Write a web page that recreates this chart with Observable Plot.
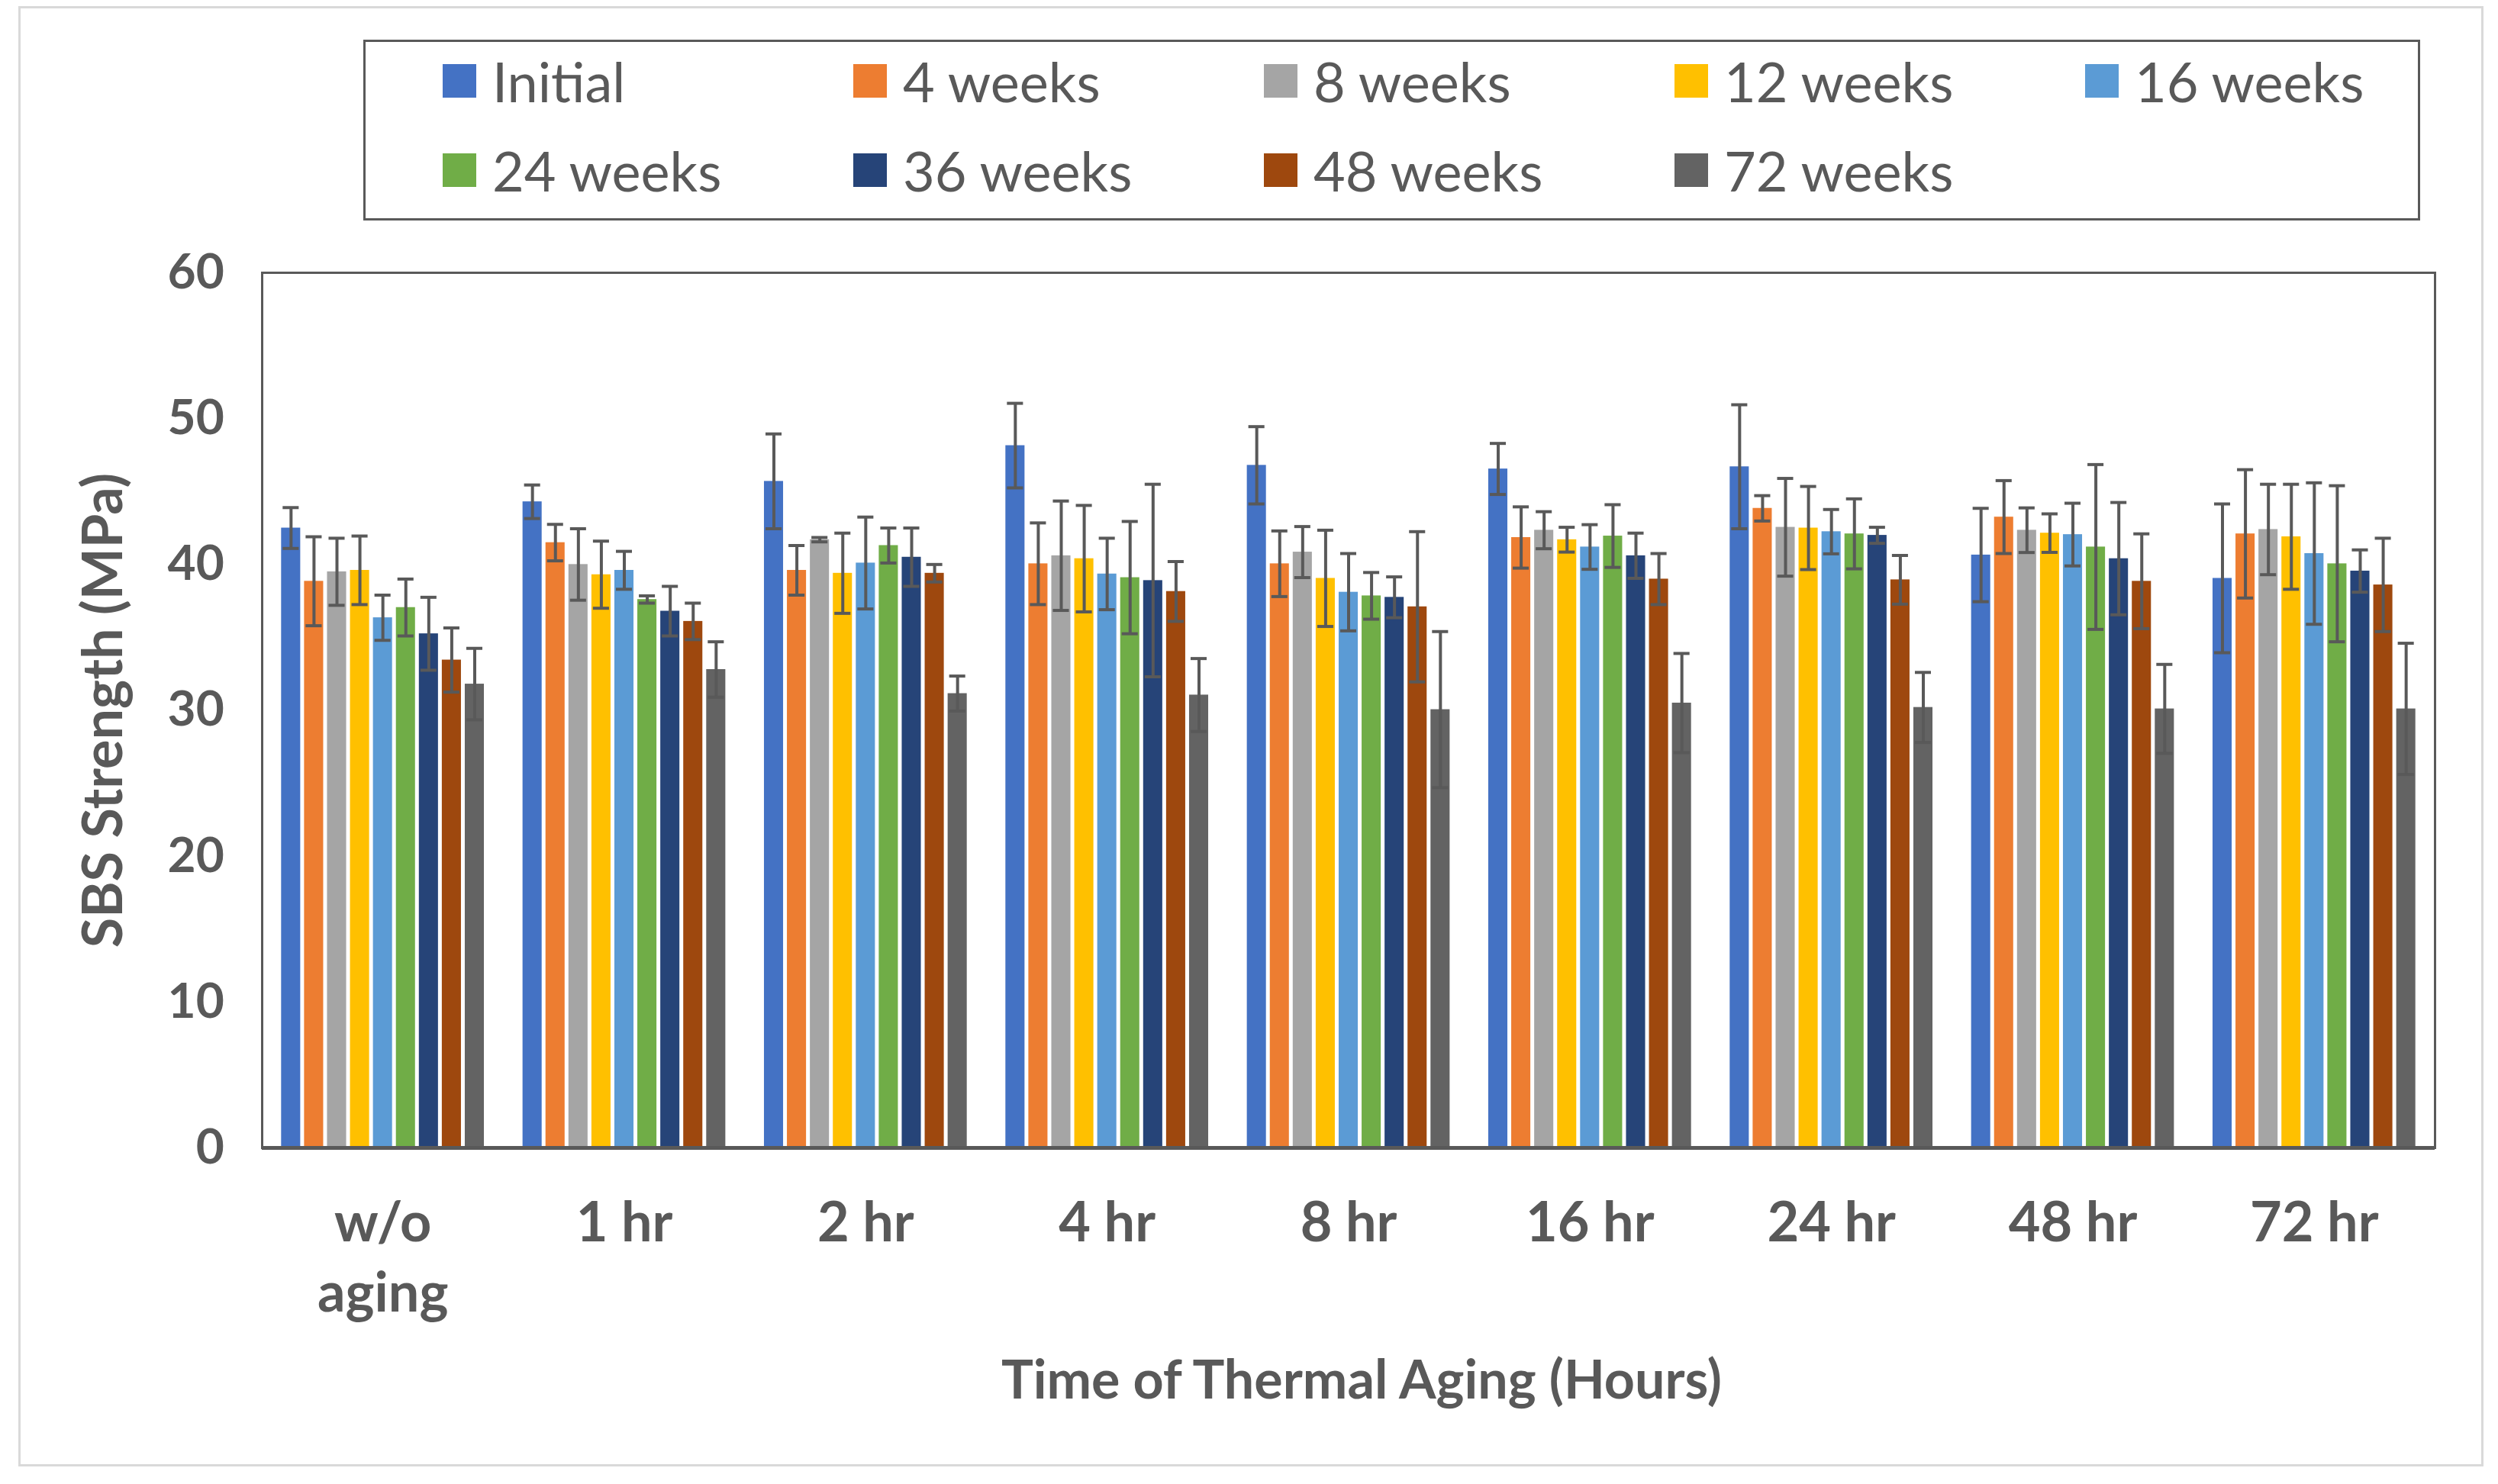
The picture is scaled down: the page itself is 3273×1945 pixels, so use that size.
<!DOCTYPE html>
<html>
<head>
<meta charset="utf-8">
<script src="https://cdn.jsdelivr.net/npm/d3@7"></script>
<script src="https://cdn.jsdelivr.net/npm/@observablehq/plot@0.6"></script>
<style>
html,body{margin:0;padding:0;background:#fff;}
#chart{position:relative;width:3273px;height:1945px;font-family:Lato,sans-serif;color:#595959;overflow:hidden;background:#fff}
#outer{position:absolute;left:24px;top:8px;width:3230px;height:1914px;border:3px solid #d9d9d9;box-sizing:border-box}
#legend{position:absolute;left:476px;top:52px;width:2695px;height:237px;border:3px solid #595959;box-sizing:border-box}
.item{position:absolute;display:flex;align-items:center;height:80px;font-size:72px;line-height:1;white-space:nowrap;color:#595959}
.sw{width:44px;height:44px;margin-right:21px;flex:none}
#plot,#overlay{position:absolute;left:0;top:300px}
</style>
</head>
<body>
<div id="chart">
  <div id="outer"></div>
  <div id="legend"></div>
  <div id="plot"></div>
  <div id="overlay"></div>
</div>
<script>
const groups = ["w/o\naging", "1 hr", "2 hr", "4 hr", "8 hr", "16 hr", "24 hr", "48 hr", "72 hr"];
const series = ["Initial", "4 weeks", "8 weeks", "12 weeks", "16 weeks", "24 weeks", "36 weeks", "48 weeks", "72 weeks"];
const colors = ["#4472C4", "#ED7D31", "#A5A5A5", "#FFC000", "#5B9BD5", "#70AD47", "#264478", "#9E480E", "#636363"];
const yTicks = [0, 10, 20, 30, 40, 50, 60];

const initial   = [42.5, 44.3, 45.7, 48.15, 46.8, 46.55, 46.7, 40.65, 39.05];
const initialErr= [1.4, 1.15, 3.25, 2.9, 2.65, 1.75, 4.25, 3.2, 5.1];
const w4        = [38.85, 41.5, 39.6, 40.05, 40.05, 41.85, 43.85, 43.25, 42.1];
const w4Err     = [3.05, 1.25, 1.7, 2.8, 2.25, 2.1, 0.87, 2.5, 4.4];
const w8        = [39.5, 40.0, 41.7, 40.6, 40.85, 42.35, 42.55, 42.35, 42.4];
const w8Err     = [2.3, 2.45, 0.15, 3.75, 1.75, 1.27, 3.35, 1.53, 3.1];
const w12       = [39.6, 39.3, 39.4, 40.4, 39.05, 41.7, 42.5, 42.15, 41.9];
const w12Err    = [2.35, 2.3, 2.75, 3.65, 3.3, 0.85, 2.85, 1.32, 3.6];
const w16       = [36.35, 39.6, 40.1, 39.35, 38.1, 41.2, 42.25, 42.05, 40.75];
const w16Err    = [1.55, 1.3, 3.15, 2.45, 2.65, 1.53, 1.52, 2.15, 4.85];
const w24       = [37.05, 37.6, 41.3, 39.1, 37.85, 41.95, 42.1, 41.2, 40.05];
const w24Err    = [1.95, 0.25, 1.2, 3.85, 1.6, 2.15, 2.4, 5.65, 5.35];
const w36       = [35.25, 36.8, 40.5, 38.9, 37.75, 40.6, 42.0, 40.4, 39.55];
const w36Err    = [2.5, 1.7, 2.0, 6.6, 1.4, 1.55, 0.55, 3.85, 1.45];
const w48       = [33.45, 36.1, 39.4, 38.15, 37.1, 39.0, 38.95, 38.85, 38.6];
const w48Err    = [2.2, 1.25, 0.6, 2.05, 5.15, 1.75, 1.67, 3.25, 3.2];
const w72       = [31.8, 32.8, 31.15, 31.05, 30.05, 30.5, 30.2, 30.1, 30.1];
const w72Err    = [2.45, 1.9, 1.2, 2.5, 5.35, 3.4, 2.4, 3.05, 4.5];

const valueSets = [initial, w4, w8, w12, w16, w24, w36, w48, w72];
const errSets = [initialErr, w4Err, w8Err, w12Err, w16Err, w24Err, w36Err, w48Err, w72Err];

const rows = [];
groups.forEach((g, gi) => {
  series.forEach((s, si) => {
    rows.push({group: g, series: s, value: valueSets[si][gi], err: errSets[si][gi]});
  });
});

// Legend
const legend = document.getElementById("legend");
series.forEach((s, i) => {
  const col = i < 5 ? i : i - 5;
  const row = i < 5 ? 0 : 1;
  const it = document.createElement("div");
  it.className = "item";
  it.style.left = (101 + 538 * col) + "px";
  it.style.top = (row === 0 ? 11 : 128) + "px";
  const sw = document.createElement("div");
  sw.className = "sw";
  sw.style.background = colors[i];
  const tx = document.createElement("span");
  tx.textContent = s;
  it.appendChild(sw);
  it.appendChild(tx);
  legend.appendChild(it);
});

const W = 3273, H = 1645, mt = 57, mb = 441, ml = 343, mr = 83;
const txt = "#595959";

const main = Plot.plot({
  width: W, height: H,
  marginTop: mt, marginBottom: mb, marginLeft: ml, marginRight: mr,
  style: {fontFamily: "Lato, sans-serif", color: txt, background: "transparent", overflow: "visible"},
  fx: {domain: groups, paddingInner: 0.16, paddingOuter: 0.08, round: false, label: null},
  x: {domain: series, paddingInner: 0.167, paddingOuter: 0, round: false, axis: null},
  y: {domain: [0, 60], label: null},
  color: {domain: series, range: colors},
  marks: [
    Plot.axisY({ticks: yTicks, tickSize: 0, tickPadding: 75, fontSize: 64, fontWeight: "bold", label: null, fill: txt}),
    Plot.axisFx({anchor: "bottom", tickSize: 0, tickPadding: 58, fontSize: 72, fontWeight: "bold", label: null, lineHeight: 1.27, fill: txt}),
    Plot.barY(rows, {fx: "group", x: "series", y: "value", fill: "series"}),
    Plot.ruleX(rows, {fx: "group", x: "series", y1: d => d.value - d.err, y2: d => d.value + d.err, stroke: "#595959", strokeWidth: 4}),
    Plot.tickY(rows, {fx: "group", x: "series", y: d => d.value + d.err, stroke: "#595959", strokeWidth: 4, insetLeft: 2, insetRight: 2}),
    Plot.tickY(rows, {fx: "group", x: "series", y: d => d.value - d.err, stroke: "#595959", strokeWidth: 4, insetLeft: 2, insetRight: 2})
  ]
});
document.getElementById("plot").appendChild(main);

const overlay = Plot.plot({
  width: W, height: H,
  marginTop: mt, marginBottom: mb, marginLeft: ml, marginRight: mr,
  style: {fontFamily: "Lato, sans-serif", color: txt, background: "transparent", overflow: "visible"},
  x: {domain: [0, 1], axis: null},
  y: {domain: [0, 60], axis: null},
  marks: [
    Plot.frame({stroke: "#595959", strokeWidth: 3}),
    Plot.ruleY([0], {stroke: "#595959", strokeWidth: 5}),
    Plot.text(["SBS Strength (MPa)"], {frameAnchor: "left", rotate: -90, dx: -207, textAnchor: "middle", lineAnchor: "middle", fontSize: 72, fontWeight: "bold", fill: txt}),
    Plot.text(["Time of Thermal Aging (Hours)"], {frameAnchor: "bottom", dx: 17, dy: 279, lineAnchor: "top", textAnchor: "middle", fontSize: 70, fontWeight: "bold", fill: txt})
  ]
});
document.getElementById("overlay").appendChild(overlay);
</script>
</body>
</html>
